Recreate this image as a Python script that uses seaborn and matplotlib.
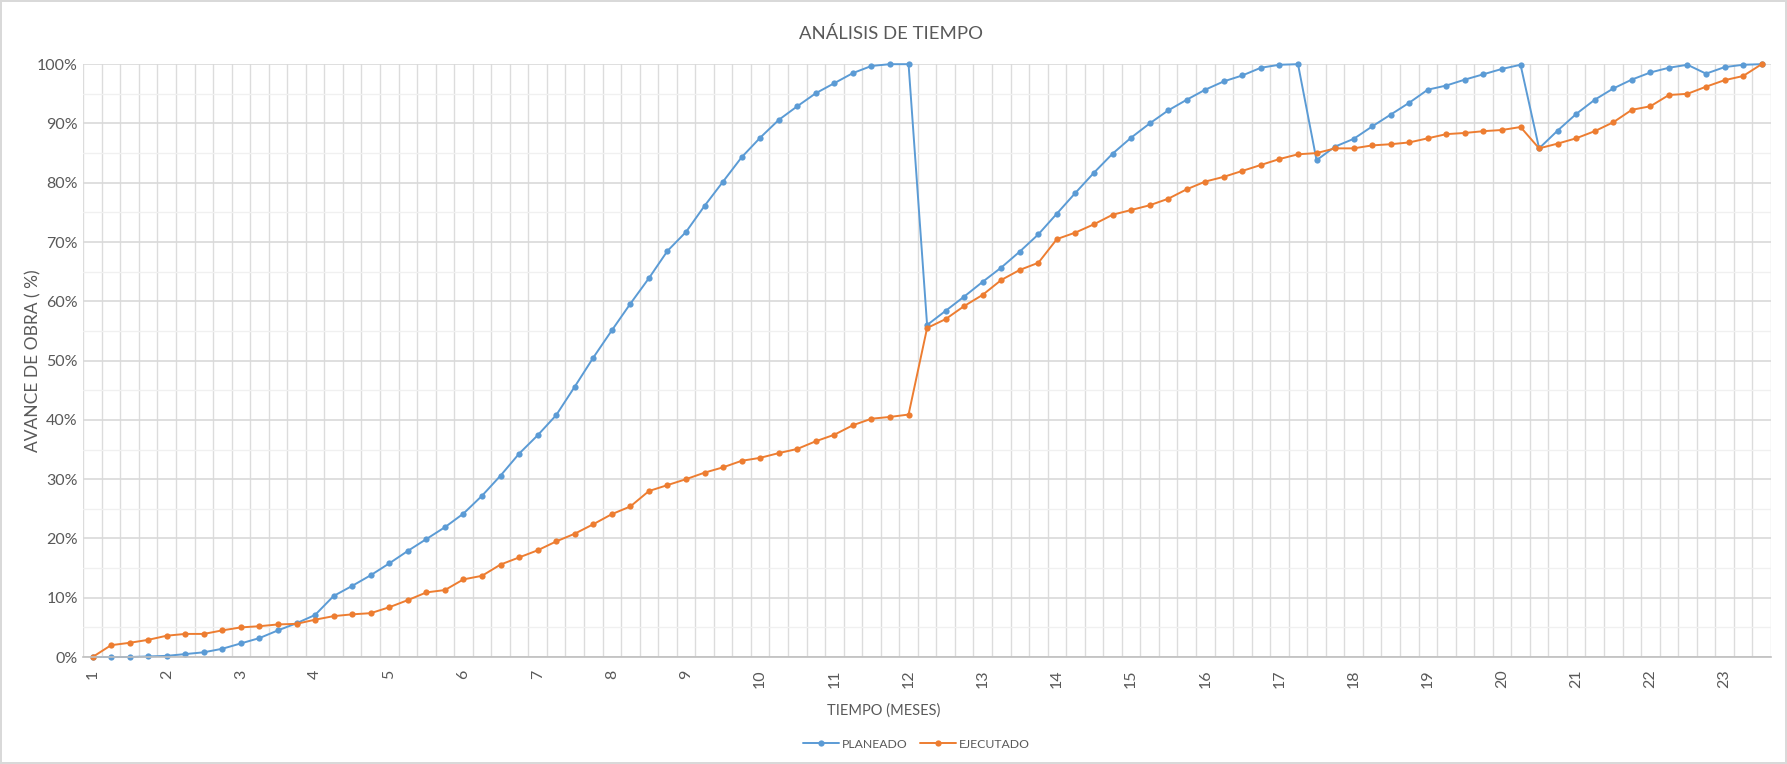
import numpy as np
import pandas as pd
import matplotlib
matplotlib.use("Agg")
import matplotlib.pyplot as plt
import seaborn as sns
from matplotlib.ticker import PercentFormatter, MultipleLocator

# weekly progress (%), 4 weeks per month, months 1..23
planeado = [
    0.0, 0.0, 0.0, 0.1, 0.2, 0.5, 0.8, 1.4, 2.3, 3.2, 4.5, 5.7, 7.1, 10.3, 12.0, 13.8,
    15.8, 17.9, 19.9, 21.9, 24.2, 27.2, 30.6, 34.3, 37.4, 40.8, 45.6, 50.5, 55.1, 59.6,
    63.9, 68.5, 71.7, 76.1, 80.2, 84.3, 87.6, 90.6, 92.9, 95.1, 96.8, 98.5, 99.7, 100.0,
    100.0, 56.0, 58.4, 60.8, 63.3, 65.7, 68.4, 71.3, 74.8, 78.3, 81.7, 84.9, 87.6, 90.0,
    92.2, 94.0, 95.7, 97.1, 98.1, 99.4, 99.9, 100.0, 83.8, 86.1, 87.4, 89.5, 91.5, 93.5,
    95.7, 96.4, 97.4, 98.3, 99.2, 99.9, 85.8, 88.8, 91.6, 94.0, 95.9, 97.4, 98.6, 99.4,
    99.9, 98.4, 99.5, 99.9, 100.0,
]
ejecutado = [
    0.0, 2.0, 2.4, 2.9, 3.6, 3.9, 3.9, 4.5, 5.0, 5.2, 5.5, 5.6, 6.3, 6.9, 7.2, 7.4,
    8.4, 9.6, 10.9, 11.3, 13.1, 13.7, 15.6, 16.8, 18.0, 19.5, 20.8, 22.4, 24.1, 25.4,
    28.0, 29.0, 30.0, 31.1, 32.0, 33.1, 33.6, 34.4, 35.1, 36.4, 37.5, 39.1, 40.2, 40.5,
    40.9, 55.5, 57.0, 59.2, 61.1, 63.6, 65.3, 66.5, 70.5, 71.6, 73.0, 74.6, 75.4, 76.2,
    77.3, 78.9, 80.2, 81.0, 82.0, 83.0, 84.0, 84.8, 85.0, 85.8, 85.8, 86.3, 86.5, 86.8,
    87.5, 88.2, 88.4, 88.7, 88.9, 89.4, 85.8, 86.6, 87.5, 88.7, 90.2, 92.3, 92.9, 94.8,
    95.0, 96.2, 97.3, 98.0, 100.0,
]
semanas = list(range(len(planeado)))
meses = [str(m) for m in range(1, 24)]

TXT = "#595959"

sns.set_theme(style="white")
plt.rcParams["font.family"] = ["Lato", "DejaVu Sans"]

df = pd.DataFrame({"semana": semanas, "PLANEADO": planeado, "EJECUTADO": ejecutado})

fig = plt.figure(figsize=(17.87, 7.64), dpi=100)
fig.patch.set_edgecolor("#d9d9d9")
fig.patch.set_linewidth(1.5)
ax = fig.add_axes([0.0466, 0.140, 0.9444, 0.776])

sns.lineplot(data=df, x="semana", y="PLANEADO", ax=ax, color="#5B9BD5", lw=1.4,
             marker="o", markersize=4.5, markeredgewidth=0, label="PLANEADO", clip_on=False)
sns.lineplot(data=df, x="semana", y="EJECUTADO", ax=ax, color="#ED7D31", lw=1.4,
             marker="o", markersize=4.5, markeredgewidth=0, label="EJECUTADO", clip_on=False)

ax.set_xlim(-0.5, len(semanas) - 0.5)
ax.set_ylim(0, 100)

# x axis: labels every 4 weeks, gridlines between categories
ax.set_xticks(semanas[::4][:len(meses)])
ax.set_xticklabels(meses, rotation=90, color=TXT, fontsize=11.5)
ax.set_xticks(np.arange(-0.5, len(semanas), 1), minor=True)
ax.tick_params(axis="x", which="major", length=0, pad=9)
ax.tick_params(axis="x", which="minor", length=5, color="#bfbfbf", width=1, direction="out")
ax.grid(axis="x", which="minor", color="#dcdcdc", lw=1)

ax.yaxis.set_major_locator(MultipleLocator(10))
ax.yaxis.set_minor_locator(MultipleLocator(5))
ax.yaxis.set_major_formatter(PercentFormatter(100, decimals=0))
ax.tick_params(axis="y", which="both", length=0, labelsize=11.5, labelcolor=TXT, pad=4)
ax.grid(axis="y", which="major", color="#d9d9d9", lw=1.2)
ax.grid(axis="y", which="minor", color="#f0f0f0", lw=1)

for s in ["top", "right", "left"]:
    ax.spines[s].set_visible(False)
ax.spines["bottom"].set_color("#bfbfbf")
ax.spines["bottom"].set_linewidth(1.2)

ax.set_xlabel("TIEMPO (MESES)", color=TXT, fontsize=10.5)
ax.xaxis.set_label_coords(0.474, -0.078)
ax.set_ylabel("AVANCE DE OBRA ( %)", color=TXT, fontsize=12.5)
ax.yaxis.set_label_coords(-0.025, 0.5)

fig.text(0.4985, 0.955, "ANÁLISIS DE TIEMPO", ha="center", va="center", color=TXT, fontsize=13.3)

handles, labels = ax.get_legend_handles_labels()
ax.get_legend().remove()
fig.legend(handles, labels, loc="center", bbox_to_anchor=(0.513, 0.026), ncol=2,
           frameon=False, fontsize=8.8, handlelength=2.9, columnspacing=1.0,
           handletextpad=0.3, labelcolor=TXT)

fig.savefig("out.png", dpi=100, facecolor="white", edgecolor=fig.get_edgecolor())
